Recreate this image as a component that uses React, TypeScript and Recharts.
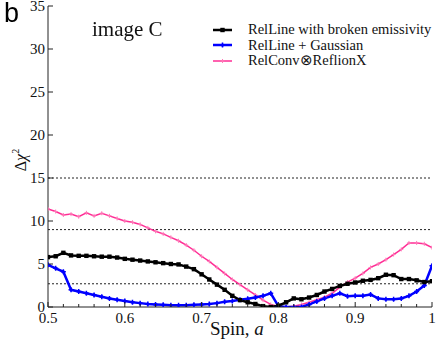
import React from 'react'
import { LineChart, Line, XAxis, YAxis, ReferenceLine } from 'recharts'

const spin = [
  0.5, 0.51, 0.52, 0.53, 0.54, 0.55, 0.56, 0.57, 0.58, 0.59,
  0.6, 0.61, 0.62, 0.63, 0.64, 0.65, 0.66, 0.67, 0.68, 0.69,
  0.7, 0.71, 0.72, 0.73, 0.74, 0.75, 0.76, 0.77, 0.78, 0.79,
  0.8, 0.81, 0.82, 0.83, 0.84, 0.85, 0.86, 0.87, 0.88, 0.89,
  0.9, 0.91, 0.92, 0.93, 0.94, 0.95, 0.96, 0.97, 0.98, 0.99, 1.0,
]

// RelLine with broken emissivity
const broken = [
  5.8, 5.9, 6.3, 6.0, 5.95, 5.95, 5.9, 5.85, 5.85, 5.75,
  5.6, 5.5, 5.4, 5.3, 5.2, 5.1, 5.0, 4.95, 4.7, 4.4,
  3.8, 3.2, 2.6, 2.0, 1.3, 0.8, 0.55, 0.35, 0.1, 0.0,
  0.15, 0.55, 1.0, 0.9, 1.1, 1.4, 1.8, 2.1, 2.45, 2.7,
  2.85, 3.05, 3.15, 3.35, 3.75, 3.7, 3.25, 3.25, 3.1, 2.9, 3.0,
]

// RelLine + Gaussian
const gauss = [
  4.9, 4.5, 4.1, 2.0, 1.8, 1.6, 1.4, 1.2, 1.0, 0.85,
  0.7, 0.55, 0.45, 0.35, 0.3, 0.25, 0.2, 0.2, 0.2, 0.25,
  0.3, 0.35, 0.45, 0.6, 0.7, 0.85, 0.95, 1.1, 1.3, 1.6,
  0.1, 0.0, 0.0, 0.0, 0.3, 0.65, 1.0, 1.3, 1.6, 1.25,
  1.3, 1.3, 1.45, 1.0, 0.9, 0.9, 1.0, 1.3, 1.8, 2.5, 4.8,
]

// RelConv x ReflionX
const conv = [
  11.4, 11.1, 10.7, 10.8, 10.5, 10.95, 10.6, 10.9, 10.6, 10.3,
  10.0, 9.85, 9.6, 9.2, 8.8, 8.5, 8.1, 7.7, 7.2, 6.6,
  5.9, 5.3, 4.6, 3.9, 3.2, 2.6, 2.0, 1.4, 0.8, 0.3,
  0.05, 0.0, 0.1, 0.3, 0.55, 0.85, 1.15, 1.6, 2.3, 2.9,
  3.35, 3.9, 4.6, 5.0, 5.5, 6.1, 6.7, 7.45, 7.45, 7.35, 6.9,
]

const xMajor = [0.5, 0.6, 0.7, 0.8, 0.9, 1.0]
const xTicks = [
  0.5, 0.52, 0.54, 0.56, 0.58, 0.6, 0.62, 0.64, 0.66, 0.68,
  0.7, 0.72, 0.74, 0.76, 0.78, 0.8, 0.82, 0.84, 0.86, 0.88,
  0.9, 0.92, 0.94, 0.96, 0.98, 1.0,
]
const yTicks = [0, 5, 10, 15, 20, 25, 30, 35]
const levels = [2.7, 9, 15]

const PINK = '#ff2d95'
const BLUE = '#0000ff'
const SERIF = '"Liberation Serif", "Times New Roman", serif'
const txt = { fontFamily: SERIF, fontSize: 15 }

const data = spin.map((s, i) => ({ spin: s, broken: broken[i], gauss: gauss[i], conv: conv[i] }))

const isMajor = (v: number) => xMajor.some(m => Math.abs(m - v) < 1e-6)
const fmtX = (v: number) => (Math.abs(v - 1) < 1e-6 ? '1' : v.toFixed(1))

const BottomTick = ({ x, y, payload }: any) => {
  const major = isMajor(payload.value)
  return (
    <g>
      <line x1={x} x2={x} y1={y} y2={y - (major ? 5 : 3)} stroke="#222" />
      {major && (
        <text x={x} y={y + 16} textAnchor="middle" style={txt} fill="#111">
          {fmtX(payload.value)}
        </text>
      )}
    </g>
  )
}

const TopTick = ({ x, y, payload }: any) => (
  <line x1={x} x2={x} y1={y} y2={y + (isMajor(payload.value) ? 5 : 3)} stroke="#222" />
)

const LeftTick = ({ x, y, payload }: any) => (
  <g>
    <line x1={x} x2={x + 5} y1={y} y2={y} stroke="#222" />
    <text x={x - 3} y={y + 5} textAnchor="end" style={txt} fill="#111">
      {payload.value}
    </text>
  </g>
)

const RightTick = ({ x, y }: any) => <line x1={x} x2={x - 5} y1={y} y2={y} stroke="#222" />

const squareDot = (p: any) => (
  <rect key={`sq-${p.index}`} x={p.cx - 2.2} y={p.cy - 2.2} width={4.4} height={4.4} fill="#000" />
)

const blueDot = (p: any) => (
  <g key={`bl-${p.index}`}>
    <path d={`M${p.cx - 2.5},${p.cy}H${p.cx + 2.5}M${p.cx},${p.cy - 2.5}V${p.cy + 2.5}`} stroke={BLUE} strokeWidth={1.5} />
    <circle cx={p.cx} cy={p.cy} r={1.6} fill={BLUE} />
  </g>
)

const pinkDot = (p: any) => (
  <path
    key={`pk-${p.index}`}
    d={`M${p.cx - 2},${p.cy}H${p.cx + 2}M${p.cx},${p.cy - 2}V${p.cy + 2}`}
    stroke="#ff7ab8"
    strokeWidth={1}
  />
)

const legendItems = [
  { name: 'RelLine with broken emissivity', color: '#000', width: 2.5, dot: squareDot },
  { name: 'RelLine + Gaussian', color: BLUE, width: 2.5, dot: blueDot },
  { name: 'RelConv\u2297ReflionX', color: PINK, width: 1.5, dot: pinkDot },
]

const LegendBox = () => (
  <div style={{ position: 'absolute', left: 210, top: 22, fontFamily: SERIF, fontSize: 14.5, color: '#111' }}>
    {legendItems.map(it => (
      <div key={it.name} style={{ display: 'flex', alignItems: 'center', height: 15.5 }}>
        <svg width={38} height={12}>
          <line x1={3} x2={22} y1={6} y2={6} stroke={it.color} strokeWidth={it.width} />
          {it.dot({ cx: 12.5, cy: 6, index: 'l' })}
        </svg>
        <span>{it.name}</span>
      </div>
    ))}
  </div>
)

export default function App() {
  return (
    <div style={{ position: 'fixed', left: 0, top: 0, width: 439, height: 347, background: '#fff' }}>
      <LineChart width={439} height={347} data={data} margin={{ top: 6, right: 7, left: 0, bottom: 0 }}>
        <XAxis
          xAxisId="b"
          dataKey="spin"
          type="number"
          domain={[0.5, 1]}
          ticks={xTicks}
          interval={0}
          height={40}
          tickSize={0}
          tickMargin={0}
          tickLine={false}
          axisLine={{ stroke: '#222' }}
          tick={<BottomTick />}
          allowDataOverflow
        />
        <XAxis
          xAxisId="t"
          orientation="top"
          dataKey="spin"
          type="number"
          domain={[0.5, 1]}
          ticks={xTicks}
          interval={0}
          height={0}
          tickSize={0}
          tickMargin={0}
          tickLine={false}
          axisLine={{ stroke: '#222' }}
          tick={<TopTick />}
        />
        <YAxis
          yAxisId="l"
          type="number"
          domain={[0, 35]}
          ticks={yTicks}
          interval={0}
          width={48}
          tickSize={0}
          tickMargin={0}
          tickLine={false}
          axisLine={{ stroke: '#222' }}
          tick={<LeftTick />}
          allowDataOverflow
        />
        <YAxis
          yAxisId="r"
          orientation="right"
          type="number"
          domain={[0, 35]}
          ticks={yTicks}
          interval={0}
          width={0}
          tickSize={0}
          tickMargin={0}
          tickLine={false}
          axisLine={{ stroke: '#222' }}
          tick={<RightTick />}
        />
        {levels.map(v => (
          <ReferenceLine key={v} xAxisId="b" yAxisId="l" y={v} stroke="#222" strokeDasharray="2 2" strokeWidth={1} />
        ))}
        <Line
          xAxisId="b"
          yAxisId="l"
          dataKey="conv"
          name="RelConv⊗ReflionX"
          stroke={PINK}
          strokeWidth={1.5}
          dot={pinkDot}
          isAnimationActive={false}
        />
        <Line
          xAxisId="b"
          yAxisId="l"
          dataKey="gauss"
          name="RelLine + Gaussian"
          stroke={BLUE}
          strokeWidth={2.5}
          dot={blueDot}
          isAnimationActive={false}
        />
        <Line
          xAxisId="b"
          yAxisId="l"
          dataKey="broken"
          name="RelLine with broken emissivity"
          stroke="#000"
          strokeWidth={2.5}
          dot={squareDot}
          isAnimationActive={false}
        />
      </LineChart>
      <LegendBox />
      <div
        style={{
          position: 'absolute', left: 4, top: 0, lineHeight: '27px',
          fontFamily: '"Liberation Sans", Arial, sans-serif', fontSize: 27, color: '#000',
        }}
      >
        b
      </div>
      <div style={{ position: 'absolute', left: 92, top: 17, fontFamily: SERIF, fontSize: 21, color: '#111' }}>
        image C
      </div>
      <div
        style={{
          position: 'absolute', left: 20, top: 160, transform: 'translate(-50%, -50%) rotate(-90deg)',
          fontFamily: SERIF, fontSize: 16, color: '#111', whiteSpace: 'nowrap',
        }}
      >
        Δ<i>χ</i><sup style={{ fontSize: 10 }}>2</sup>
      </div>
      <div style={{ position: 'absolute', left: 210, top: 318, fontFamily: SERIF, fontSize: 19, color: '#111' }}>
        Spin, <i>a</i>
      </div>
    </div>
  )
}
